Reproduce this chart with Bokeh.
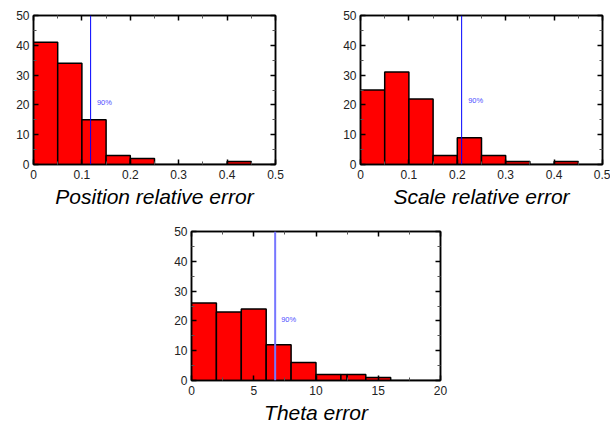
from bokeh.plotting import figure
from bokeh.layouts import column, row
from bokeh.models import LinearAxis, Range1d, CustomJSTickFormatter, Spacer, Span, Label, FixedTicker
from bokeh.embed import file_html
from bokeh.resources import INLINE

# ---- data ----
pos_left = [0.0, 0.05, 0.10, 0.15, 0.20, 0.25, 0.30, 0.35, 0.40, 0.45]
pos_right = [0.05, 0.10, 0.15, 0.20, 0.25, 0.30, 0.35, 0.40, 0.45, 0.50]
pos_counts = [41, 34, 15, 3, 2, 0, 0, 0, 1, 0]
pos_p90 = 0.118

scale_left = [0.0, 0.05, 0.10, 0.15, 0.20, 0.25, 0.30, 0.35, 0.40, 0.45]
scale_right = [0.05, 0.10, 0.15, 0.20, 0.25, 0.30, 0.35, 0.40, 0.45, 0.50]
scale_counts = [25, 31, 22, 3, 9, 3, 1, 0, 1, 0]
scale_p90 = 0.209

theta_left = [0, 2, 4, 6, 8, 10, 12, 12.5, 14, 16, 18]
theta_right = [2, 4, 6, 8, 10, 12, 12.5, 14, 16, 18, 20]
theta_counts = [26, 23, 24, 12, 6, 2, 2, 2, 1, 0, 0]
theta_p90 = 6.72

pos_xticks = [0, 0.1, 0.2, 0.3, 0.4, 0.5]
theta_xticks = [0, 5, 10, 15, 20]
yticks = [0, 10, 20, 30, 40, 50]
yminor = [5, 15, 25, 35, 45]

FONT = "Liberation Sans"


def style_axis(ax, labels=True, standoff=4):
    ax.major_tick_in = 5
    ax.major_tick_out = 0
    ax.minor_tick_in = 3
    ax.minor_tick_out = 0
    ax.axis_line_color = "black"
    ax.axis_line_width = 1.5
    ax.major_tick_line_color = "black"
    ax.major_tick_line_width = 1.5
    ax.minor_tick_line_color = "#555555"
    ax.minor_tick_line_width = 1
    ax.major_label_text_font = FONT
    ax.major_label_text_font_size = "12px"
    ax.major_label_text_color = "#222222"
    ax.major_label_standoff = standoff
    if not labels:
        ax.formatter = CustomJSTickFormatter(code="return ''")
        ax.major_label_standoff = 0
        ax.major_label_text_font_size = "1px"


def make_panel(left, right, counts, p90, xmax, xticks, title, width, height,
               bl, br, bt, bb, label_x, label_y, line_color, line_width):
    p = figure(width=width, height=height, output_backend="svg", toolbar_location=None,
               x_range=Range1d(0, xmax), y_range=Range1d(0, 50),
               min_border_left=bl, min_border_right=br, min_border_top=bt, min_border_bottom=bb)
    p.xgrid.visible = False
    p.ygrid.visible = False
    p.outline_line_color = "black"
    p.outline_line_width = 1.5
    p.quad(left=left, right=right, top=counts, bottom=0,
           fill_color="#ff0000", line_color="black", line_width=1.5)
    p.add_layout(Span(location=p90, dimension="height", line_color=line_color, line_width=line_width))
    p.add_layout(Label(x=label_x, y=label_y, text="90%", text_font=FONT, text_font_size="7.5px",
                       text_color="#4d4dff", text_baseline="middle"))
    xminor = [(xticks[i] + xticks[i + 1]) / 2 for i in range(len(xticks) - 1)]
    xa = p.xaxis[0]
    ya = p.yaxis[0]
    xa.ticker = FixedTicker(ticks=xticks, minor_ticks=xminor)
    ya.ticker = FixedTicker(ticks=yticks, minor_ticks=yminor)
    style_axis(xa, standoff=5)
    style_axis(ya, standoff=4)
    xa.axis_label = title
    xa.axis_label_text_font = FONT
    xa.axis_label_text_font_style = "italic"
    xa.axis_label_text_font_size = "21px"
    xa.axis_label_text_color = "black"
    xa.axis_label_standoff = 3
    top = LinearAxis(ticker=FixedTicker(ticks=xticks, minor_ticks=xminor))
    rgt = LinearAxis(ticker=FixedTicker(ticks=yticks, minor_ticks=yminor))
    style_axis(top, labels=False)
    style_axis(rgt, labels=False)
    p.add_layout(top, "above")
    p.add_layout(rgt, "right")
    return p


p1 = make_panel(pos_left, pos_right, pos_counts, pos_p90, 0.5, pos_xticks,
                "Position relative error", 300, 210, 33, 25, 15, 46,
                0.131, 20.8, "#0000ff", 1)
p2 = make_panel(scale_left, scale_right, scale_counts, scale_p90, 0.5, pos_xticks,
                "Scale relative error", 310, 210, 60, 8, 15, 46,
                0.2225, 21.5, "#0000ff", 1)
p3 = make_panel(theta_left, theta_right, theta_counts, theta_p90, 20, theta_xticks,
                "Theta error", 315, 216, 41, 25, 21, 46,
                7.2, 20.5, "#7777ff", 2)

layout = column(row(p1, p2), row(Spacer(width=150, height=216), p3))

open("out.html", "w").write(file_html(layout, INLINE))
